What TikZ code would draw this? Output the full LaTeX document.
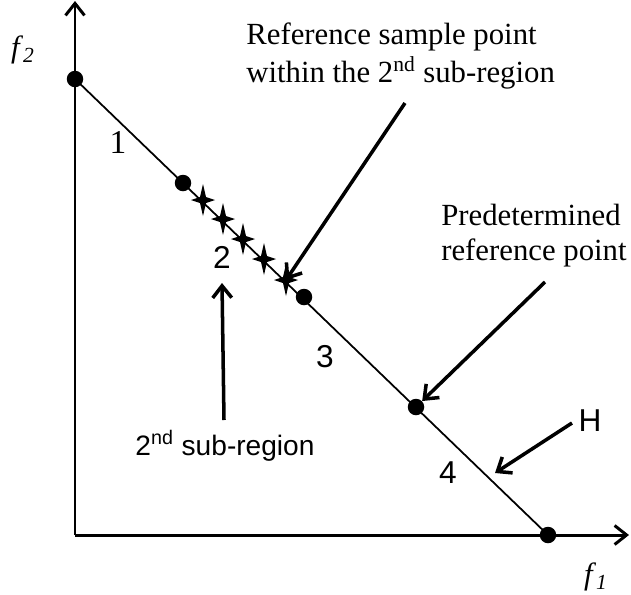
\documentclass[tikz,border=0pt]{standalone}
\usepackage{fontspec}
\setmainfont{Liberation Serif}
\setsansfont{Liberation Sans}
\usetikzlibrary{arrows.meta}

\begin{document}
\begin{tikzpicture}[x=0.2mm,y=-0.2mm,
	>={Straight Barb[length=2.4mm,width=3.8mm]},
	dot/.style={circle,fill=black,inner sep=0pt,minimum size=3.3mm},
	lbl/.style={inner sep=0pt,font=\fontsize{17.5}{20}\selectfont},
	slbl/.style={inner sep=0pt,font=\sffamily\fontsize{16}{20}\selectfont},
	num/.style={inner sep=0pt,font=\sffamily\fontsize{18}{20}\selectfont},
	axis/.style={black,line width=1.7pt,->},
	ptr/.style={black,line width=2pt,->},
	sparkle/.pic={\fill (0,-16) -- (3,-3) -- (12,0) -- (3,3) -- (0,16) -- (-3,3) -- (-12,0) -- (-3,-3) -- cycle;}]
				\useasboundingbox (0,0) rectangle (631,595);
				\coordinate (O) at (75,535);
				\coordinate (ytip) at (75,1);
				\coordinate (xtip) at (629,535);
				\draw[axis] (O) -- (ytip);
				\draw[axis] (O) -- (xtip);
				\node[dot] (P1) at (75,79) {};
				\node[dot] (P2) at (183,183) {};
				\node[dot] (P3) at (304,297) {};
				\node[dot] (P4) at (416,407) {};
				\node[dot] (P5) at (548,535) {};
				\draw[black,line width=1pt] (P1.center) -- (P5.center);
				\foreach \n/\p in {1/{203,200},2/{223,219},3/{243,239},4/{264,259},5/{286,280}}
					\path (\p) coordinate (s\n) pic {sparkle};
				\node[lbl] (f2) at (23,50) {\textit{f}\textsubscript{\textit{2}}};
				\node[lbl] (f1) at (596,577) {\textit{f}\textsubscript{\textit{1}}};
				\node[lbl,font=\fontsize{19}{20}\selectfont] (r1) at (118,142) {1};
				\node[num] (r2) at (222,257) {2};
				\node[num] (r3) at (325,357) {3};
				\node[num] (r4) at (448,473) {4};
				\node[num] (H) at (590,421) {H};
				\node[lbl,anchor=west,align=left] (sample) at (246,56) {Reference sample point\\[1.5pt]within the 2\textsuperscript{nd} sub-region};
				\node[lbl,anchor=west,align=left] (predet) at (441,236) {Predetermined\\reference point};
				\node[slbl] (sub) at (225,446) {2\textsuperscript{nd} sub-region};
				\coordinate (a1) at (405,103);
				\coordinate (a2) at (545,282);
				\coordinate (a3) at (572,423);
				\coordinate (a4) at (224,420);
				\coordinate (t3) at (495,473);
				\coordinate (t4) at (222,283);
				\draw[ptr] (a1) -- (s5);
				\draw[ptr] (a2) -- (P4);
				\draw[ptr] (a3) -- (t3);
				\draw[ptr] (a4) -- (t4);
			\end{tikzpicture}
\end{document}
